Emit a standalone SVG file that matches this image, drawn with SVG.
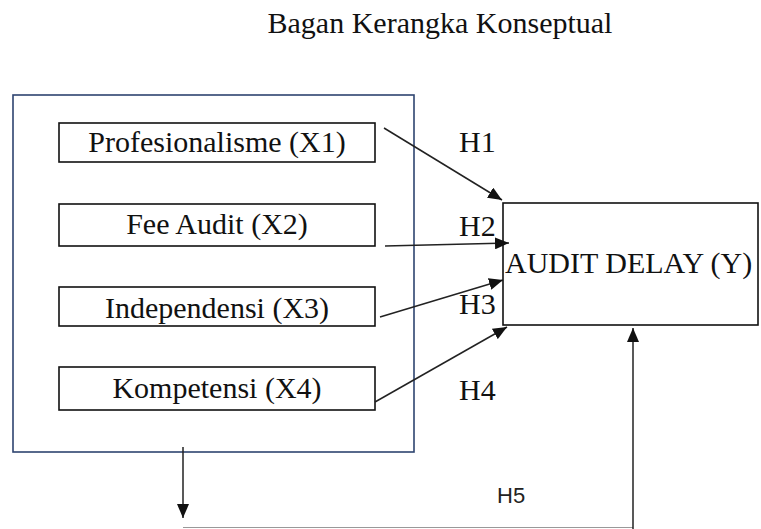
<svg xmlns="http://www.w3.org/2000/svg" width="761" height="529" viewBox="0 0 761 529">
<style>
.serif{font-family:"Liberation Serif","Times New Roman",serif;font-size:30px;fill:#111}
.sans{font-family:"Liberation Sans",Arial,sans-serif;font-size:22px;fill:#222}
.box{fill:#fff;stroke:#111;stroke-width:1.6}
.outer{fill:none;stroke:#2e4470;stroke-width:1.6}
.conn{stroke:#222;stroke-width:1.5;fill:none}
.thin{stroke:#999;stroke-width:1.2;fill:none}
</style>
<defs>
<marker id="ah" markerUnits="userSpaceOnUse" markerWidth="16" markerHeight="12" refX="14" refY="6" orient="auto">
<path d="M0,0 L14,6 L0,12 Z" fill="#111"/>
</marker>
</defs>
<rect width="761" height="529" fill="#fff"/>
<text class="serif" x="440" y="33" text-anchor="middle">Bagan Kerangka Konseptual</text>
<g id="outer-group"><rect class="outer" x="13" y="95" width="401" height="357"/></g>
<g id="x1"><rect class="box" x="59" y="123" width="316" height="39"/><text class="serif" x="217" y="152" text-anchor="middle">Profesionalisme (X1)</text></g>
<g id="x2"><rect class="box" x="59" y="204" width="316" height="42"/><text class="serif" x="217" y="234" text-anchor="middle">Fee Audit (X2)</text></g>
<g id="x3"><rect class="box" x="59" y="287" width="316" height="39"/><text class="serif" x="217" y="318" text-anchor="middle">Independensi (X3)</text></g>
<g id="x4"><rect class="box" x="59" y="367" width="316" height="43"/><text class="serif" x="217" y="398" text-anchor="middle">Kompetensi (X4)</text></g>
<g id="y"><rect class="box" x="503" y="203" width="255" height="122"/><text class="serif" x="505" y="273">AUDIT DELAY (Y)</text></g>
<g id="connectors">
<line class="conn" x1="384" y1="128" x2="502" y2="200" marker-end="url(#ah)"/>
<line class="conn" x1="385" y1="246" x2="509" y2="243" marker-end="url(#ah)"/>
<line class="conn" x1="380" y1="317" x2="503" y2="280" marker-end="url(#ah)"/>
<line class="conn" x1="375" y1="402" x2="507" y2="327" marker-end="url(#ah)"/>
<line class="conn" x1="183" y1="447" x2="183" y2="518" marker-end="url(#ah)"/>
<line class="thin" x1="183" y1="527.5" x2="633" y2="527.5"/>
<line class="conn" x1="633" y1="529" x2="633" y2="328" marker-end="url(#ah)"/>
</g>
<g id="labels">
<text class="serif" x="459" y="152">H1</text>
<text class="serif" x="459" y="236">H2</text>
<text class="serif" x="459" y="314">H3</text>
<text class="serif" x="459" y="400">H4</text>
<text class="sans" x="497" y="503">H5</text>
</g>
</svg>
